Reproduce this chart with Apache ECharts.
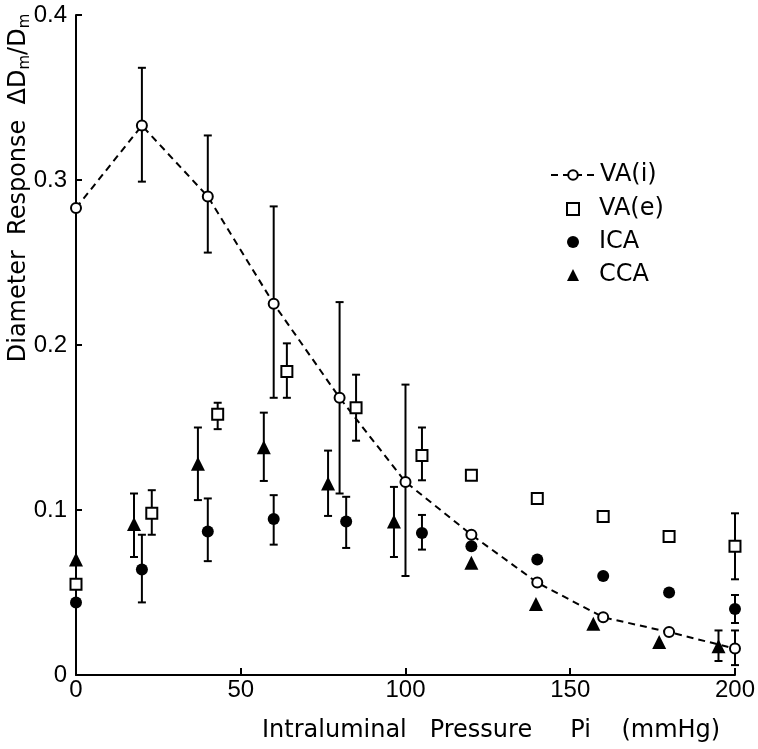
<!DOCTYPE html>
<html>
<head>
<meta charset="utf-8">
<script src="https://cdn.jsdelivr.net/npm/echarts@6/dist/echarts.min.js"></script>
<style>
  html, body { margin: 0; padding: 0; background: #fff; }
  #chart { width: 758px; height: 749px; }
</style>
</head>
<body>
<div id="chart"></div>
<script>
// 轴刻度
const xTicks = [0, 50, 100, 150, 200];
const yTicks = [0, 0.1, 0.2, 0.3, 0.4];

// VA(i) 开口圆 + 虚线
const vaiX = [0, 20, 40, 60, 80, 100, 120, 140, 160, 180, 200];
const vaiY = [0.283, 0.333, 0.290, 0.225, 0.168, 0.117, 0.085, 0.056, 0.035, 0.026, 0.016];
const vaiErr = [[20, 0.299, 0.368], [40, 0.256, 0.327], [60, 0.168, 0.284], [80, 0.110, 0.226], [100, 0.060, 0.176], [200, 0.006, 0.027]];

// VA(e) 开口方块
const vaeX = [0, 23, 43, 64, 85, 105, 120, 140, 160, 180, 200];
const vaeY = [0.055, 0.098, 0.158, 0.184, 0.162, 0.133, 0.121, 0.107, 0.096, 0.084, 0.078];
const vaeErr = [[23, 0.085, 0.112], [43, 0.149, 0.165], [64, 0.168, 0.201], [85, 0.142, 0.182], [105, 0.118, 0.150], [200, 0.058, 0.098]];

// ICA 实心圆
const icaX = [0, 20, 40, 60, 82, 105, 120, 140, 160, 180, 200];
const icaY = [0.044, 0.064, 0.087, 0.0945, 0.093, 0.086, 0.078, 0.070, 0.060, 0.050, 0.040];
const icaErr = [[20, 0.044, 0.085], [40, 0.069, 0.107], [60, 0.079, 0.109], [82, 0.077, 0.108], [105, 0.076, 0.097], [200, 0.0315, 0.0485]];

// CCA 实心三角
const ccaX = [0, 17.6, 37, 57, 76.5, 96.5, 120, 139.6, 157, 177, 195];
const ccaY = [0.070, 0.0915, 0.128, 0.138, 0.116, 0.093, 0.068, 0.043, 0.031, 0.020, 0.0175];
const ccaErr = [[17.6, 0.0715, 0.110], [37, 0.106, 0.150], [57, 0.1176, 0.159], [76.5, 0.0964, 0.136], [96.5, 0.0715, 0.114], [195, 0.0085, 0.027]];

const TICK_FONT = 'Liberation Sans';
const TITLE_FONT = 'DejaVu Sans';
const zip = (xs, ys) => xs.map((x, i) => [x, ys[i]]);

// 误差棒
function renderErr(params, api) {
    const x = api.value(0);
    const pLo = api.coord([x, api.value(1)]);
    const pHi = api.coord([x, api.value(2)]);
    const w = 4;
    const st = { stroke: '#000', lineWidth: 2 };
    return {
        type: 'group',
        children: [
            { type: 'line', shape: { x1: pLo[0], y1: pLo[1], x2: pHi[0], y2: pHi[1] }, style: st },
            { type: 'line', shape: { x1: pLo[0] - w, y1: pLo[1], x2: pLo[0] + w, y2: pLo[1] }, style: st },
            { type: 'line', shape: { x1: pHi[0] - w, y1: pHi[1], x2: pHi[0] + w, y2: pHi[1] }, style: st }
        ]
    };
}

function errSeries(data) {
    return { type: 'custom', renderItem: renderErr, data: data, encode: { x: 0, y: [1, 2] }, z: 1, silent: true };
}

const chart = echarts.init(document.getElementById('chart'));

const legendText = { fontSize: 24, lineHeight: 24, fontFamily: TITLE_FONT, color: '#000' };

const option = {
    animation: false,
    backgroundColor: '#fff',
    grid: { left: 76, right: 23, top: 15, bottom: 74 },
    xAxis: {
        type: 'value', min: 0, max: 200, interval: 50,
        axisLine: { lineStyle: { color: '#000', width: 2 } },
        axisTick: { inside: true, length: 7, lineStyle: { color: '#000', width: 2 } },
        axisLabel: { color: '#000', fontSize: 24, fontFamily: TICK_FONT, margin: 3 },
        splitLine: { show: false }
    },
    yAxis: {
        type: 'value', min: 0, max: 0.4, interval: 0.1,
        axisLine: { show: true, lineStyle: { color: '#000', width: 2 } },
        axisTick: { show: true, inside: true, length: 6, lineStyle: { color: '#000', width: 2 } },
        axisLabel: {
            color: '#000', fontSize: 24, fontFamily: TICK_FONT, margin: 9,
            formatter: v => (v === 0 ? '0' : v.toFixed(1))
        },
        splitLine: { show: false }
    },
    legend: [
        {
            orient: 'vertical', left: 545, top: 158,
            itemWidth: 44, itemHeight: 12,
            textStyle: legendText,
            data: ['VA(i)']
        },
        {
            orient: 'vertical', left: 561, top: 192,
            itemWidth: 12, itemHeight: 12, itemGap: 9,
            textStyle: Object.assign({ padding: [0, 0, 0, 15] }, legendText),
            data: ['VA(e)', 'ICA', 'CCA']
        }
    ],
    graphic: [
        {
            type: 'text', x: 19, y: 188, rotation: Math.PI / 2,
            style: {
                text: '{a|Diameter  Response  ΔD}{s|m}{a|/D}{s|m}',
                align: 'center', verticalAlign: 'middle',
                rich: {
                    a: { fontSize: 24, fontFamily: TITLE_FONT, fill: '#000', lineHeight: 28 },
                    s: { fontSize: 15, fontFamily: TITLE_FONT, fill: '#000', verticalAlign: 'bottom', lineHeight: 28, padding: [10, 0, 0, 0] }
                }
            }
        },
        {
            type: 'text', x: 262, y: 731,
            style: {
                text: 'Intraluminal   Pressure     Pi    (mmHg)',
                align: 'left', verticalAlign: 'middle',
                fontSize: 24, fontFamily: TITLE_FONT, fill: '#000'
            }
        }
    ],
    series: [
        errSeries(vaiErr),
        errSeries(vaeErr),
        errSeries(icaErr),
        errSeries(ccaErr),
        {
            name: 'VA(i)', type: 'line', data: zip(vaiX, vaiY), z: 3,
            symbol: 'circle', symbolSize: 10,
            lineStyle: { color: '#000', width: 2, type: [7, 5] },
            itemStyle: { color: '#fff', borderColor: '#000', borderWidth: 2, opacity: 1 }
        },
        {
            name: 'VA(e)', type: 'scatter', data: zip(vaeX, vaeY), z: 3,
            symbol: 'rect', symbolSize: 11,
            itemStyle: { color: '#fff', borderColor: '#000', borderWidth: 2, opacity: 1 }
        },
        {
            name: 'ICA', type: 'scatter', data: zip(icaX, icaY), z: 3,
            symbol: 'circle', symbolSize: 12,
            itemStyle: { color: '#000', opacity: 1 }
        },
        {
            name: 'CCA', type: 'scatter', data: zip(ccaX, ccaY), z: 3,
            symbol: 'triangle', symbolSize: 14,
            itemStyle: { color: '#000', opacity: 1 }
        }
    ]
};

chart.setOption(option);
</script>
</body>
</html>
